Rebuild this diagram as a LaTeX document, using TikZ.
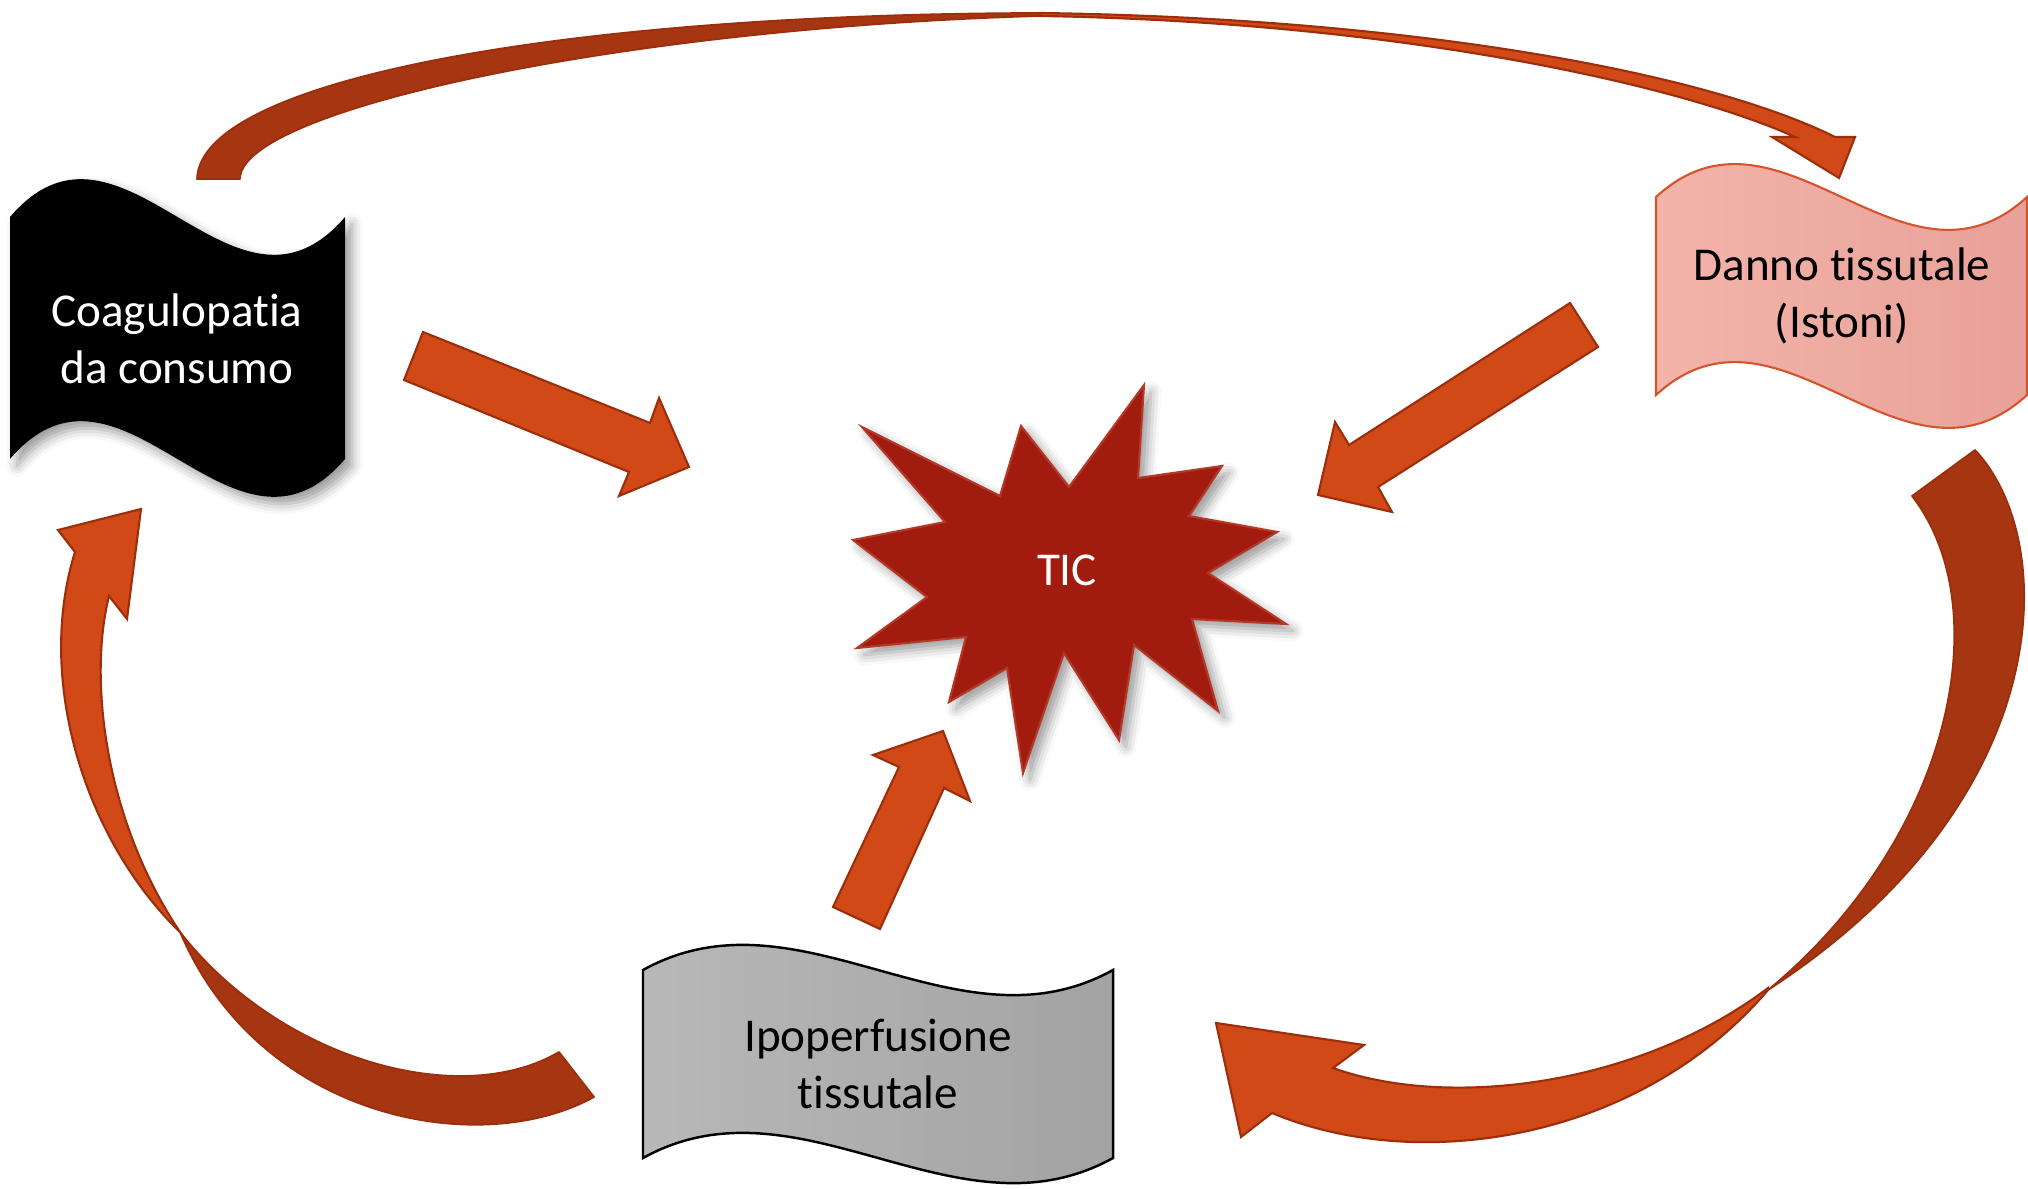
\documentclass[tikz,border=0pt]{standalone}
\usepackage{fontspec}
\setmainfont{Carlito}[Ligatures=NoCommon,RawFeature=-liga]
\usetikzlibrary{shadows.blur}
\definecolor{arrorange}{RGB}{209,73,22}
\definecolor{arrdark}{RGB}{166,54,17}
\definecolor{arrline}{RGB}{156,46,12}
\definecolor{ticred}{RGB}{161,28,14}
\definecolor{ticline}{RGB}{180,56,40}
\definecolor{pinkL}{RGB}{243,180,170}
\definecolor{pinkR}{RGB}{232,161,153}
\definecolor{pinkline}{RGB}{214,84,44}
\definecolor{grayL}{RGB}{184,184,184}
\definecolor{grayR}{RGB}{163,163,163}
\begin{document}
\begin{tikzpicture}[x=0.01cm,y=-0.01cm,
    txt/.style={align=center,font=\fontsize{13.4}{16.3}\selectfont},
    blockarr/.style={fill=arrorange,draw=arrline,line width=0.6pt,line join=miter},
    ribbonback/.style={fill=arrdark,draw=arrline,line width=0.5pt,line join=round},
    softshadow/.style={blur shadow={shadow xshift=2pt,shadow yshift=-2pt,shadow blur radius=3pt}}]
                  \useasboundingbox (0,0) rectangle (2028,1189);

                  \path[fill=black,softshadow] (10,217) .. controls (122,86) and (233,348) .. (345,217) -- (345,459) .. controls (233,590) and (122,328) .. (10,459) -- cycle;
                  \node[txt,text=white] (coag) at (177,339) {Coagulopatia\\da consumo};

                  \path[draw=pinkline,line width=0.6pt,left color=pinkL,right color=pinkR] (1656,197) .. controls (1780,83) and (1903,311) .. (2027,197) -- (2027,395) .. controls (1903,509) and (1780,281) .. (1656,395) -- cycle;
                  \node[txt] (danno) at (1842,296) {Danno tissutale\\(Istoni)};

                  \path[draw=black,line width=0.7pt,left color=grayL,right color=grayR] (643,970) .. controls (800,883) and (956,1057) .. (1113,970) -- (1113,1158) .. controls (956,1245) and (800,1071) .. (643,1158) -- cycle;
                  \node[txt] (ipo) at (878,1064) {Ipoperfusione\\tissutale};

                  \path[fill=ticred,draw=ticline,line width=0.6pt,softshadow] (862,427) -- (1000,496) -- (1021,426) -- (1069,487) -- (1144,385) -- (1138,478) -- (1222,466) -- (1189,516) -- (1277,532) -- (1208,573) -- (1286,624) -- (1192,619) -- (1218,711) -- (1134,645) -- (1119,740) -- (1064,653) -- (1023,773) -- (1007,668) -- (949,702) -- (966,637) -- (857,648) -- (927,597) -- (853,540) -- (945,522) -- cycle;
                  \node[txt,text=white] (tic) at (1067,570) {TIC};

                  \path[blockarr] (423,332) -- (650,423) -- (659,398) -- (689,467) -- (619,496) -- (629,472) -- (404,380) -- cycle;
                  \path[blockarr] (1570,303) -- (1349,445) -- (1335,422) -- (1318,495) -- (1392,512) -- (1378,487) -- (1598,347) -- cycle;
                  \path[blockarr] (833,907) -- (899,767) -- (873,755) -- (943,731) -- (970,801) -- (944,788) -- (880,929) -- cycle;

                  \path[ribbonback] (197,179) .. controls (200,80) and (560,14) .. (1040,13)
                        -- (1040,16) .. controls (620,28) and (240,110) .. (240,179) -- cycle;
                  \path[blockarr] (1040,13) .. controls (1400,18) and (1700,70) .. (1835,137)
                        -- (1855,137) -- (1839,178) -- (1772,137) -- (1795,137)
                        .. controls (1680,85) and (1400,22) .. (1040,16) -- cycle;

                  \path[ribbonback] (1975,450) .. controls (2060,540) and (2060,800) .. (1768,990)
                        .. controls (1950,840) and (2000,610) .. (1912,496) -- cycle;
                  \path[blockarr] (1768,988) .. controls (1640,1085) and (1450,1110) .. (1333,1068)
                        -- (1364,1045) -- (1216,1023) -- (1241,1137) -- (1272,1113)
                        .. controls (1420,1175) and (1640,1140) .. (1768,990) -- cycle;

                  \path[blockarr] (109,596) .. controls (88,680) and (105,820) .. (180,932)
                        .. controls (85,840) and (35,680) .. (75,552)
                        -- (58,530) -- (141,509) -- (127,619) -- cycle;
                  \path[ribbonback] (180,932) .. controls (280,1060) and (460,1110) .. (559,1052)
                        -- (594,1097) .. controls (480,1160) and (260,1120) .. (180,932) -- cycle;
              \end{tikzpicture}
\end{document}
